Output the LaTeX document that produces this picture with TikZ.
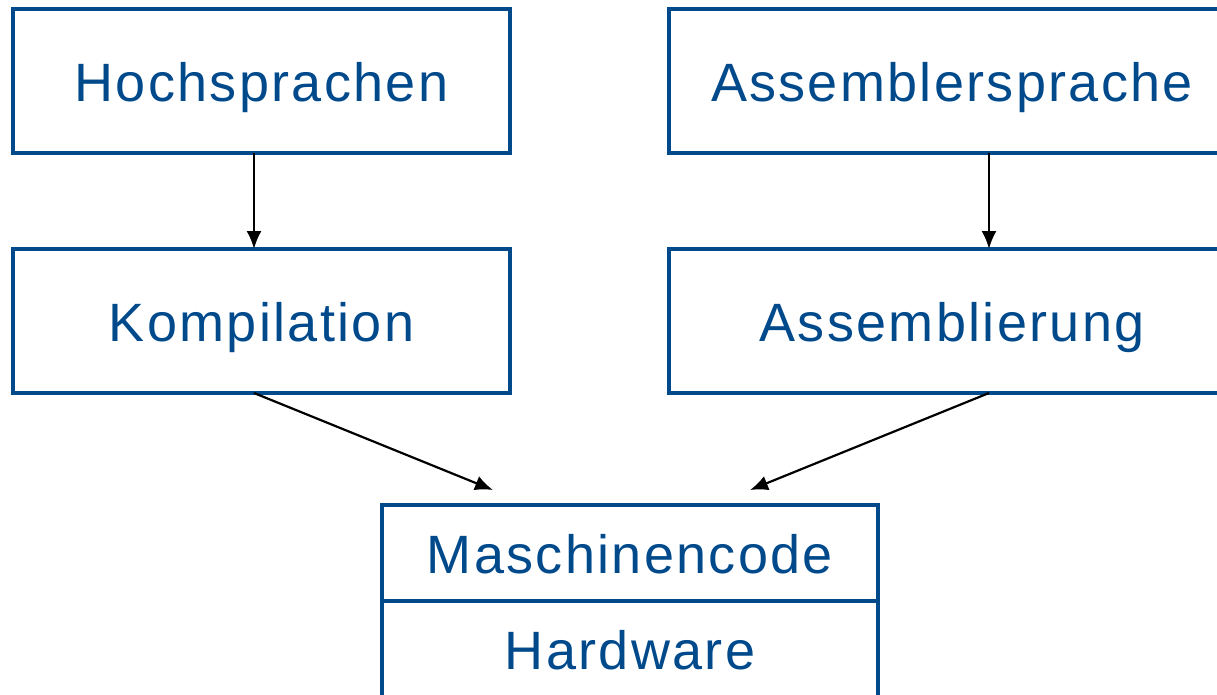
\documentclass[tikz,border=0pt]{standalone}
\usepackage{fontspec}
\setmainfont[LetterSpace=4.3]{Liberation Sans}
\usetikzlibrary{arrows.meta}
\definecolor{boxblue}{RGB}{0,74,140}
\tikzset{
  box/.style={draw=boxblue, line width=4pt, text=boxblue, outer sep=0pt, inner sep=0pt,
    font=\fontsize{54}{60}\selectfont, text height=40pt, text depth=0pt},
  arr/.style={draw=black, line width=2.2pt, -{Latex[length=18pt,width=15pt]}}
}
\begin{document}
\begin{tikzpicture}[x=1pt,y=-1pt]
\useasboundingbox (0,0) rectangle (1217,694);
\clip (0,0) rectangle (1217,694);
\node[box, minimum width=497pt, minimum height=144pt] (hoch) at (261.5,81) {Hochsprachen};
\node[box, minimum width=566pt, minimum height=144pt] (asm) at (952,81) {Assemblersprache};
\node[box, minimum width=497pt, minimum height=144pt] (komp) at (261.5,321) {Kompilation};
\node[box, minimum width=566pt, minimum height=144pt] (asmb) at (952,321) {Assemblierung};
\node[box, minimum width=496pt, minimum height=96pt] (mc) at (630,553) {Maschinencode};
\node[box, minimum width=496pt, minimum height=96pt] (hw) at (630,649) {Hardware};
\draw[arr] ([xshift=-7.5pt]hoch.south) -- ([xshift=-7.5pt]komp.north);
\draw[arr] ([xshift=37pt]asm.south) -- ([xshift=37pt]asmb.north);
\draw[arr] ([xshift=-7.5pt]komp.south) -- ([xshift=-137pt,yshift=15pt]mc.north);
\draw[arr] ([xshift=37pt]asmb.south) -- ([xshift=120pt,yshift=15pt]mc.north);
\end{tikzpicture}
\end{document}
